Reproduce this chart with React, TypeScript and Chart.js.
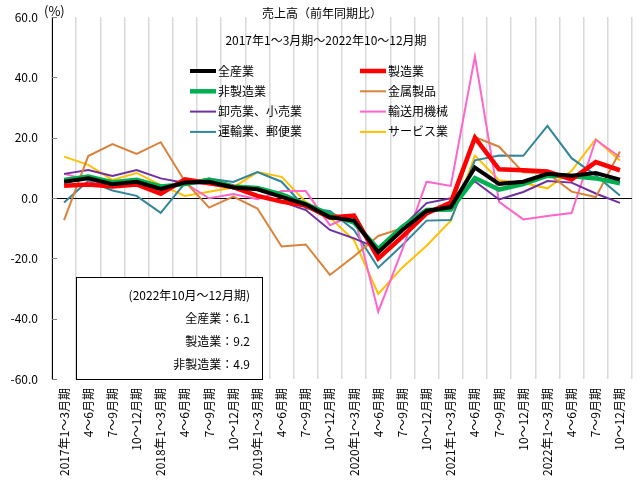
import React, { useEffect, useRef } from 'react';
import Chart from 'chart.js/auto';

// 四半期ラベル
const quarters = [
    '2017年1～3月期', '4～6月期', '7～9月期', '10～12月期',
    '2018年1～3月期', '4～6月期', '7～9月期', '10～12月期',
    '2019年1～3月期', '4～6月期', '7～9月期', '10～12月期',
    '2020年1～3月期', '4～6月期', '7～9月期', '10～12月期',
    '2021年1～3月期', '4～6月期', '7～9月期', '10～12月期',
    '2022年1～3月期', '4～6月期', '7～9月期', '10～12月期',
];

// 前年同期比 (%)
const allIndustries = [5.4, 6.5, 4.6, 5.4, 3.0, 5.1, 5.4, 3.5, 2.9, 0.4, -2.1, -6.4, -7.5, -18.0, -10.6, -4.3, -3.0, 10.1, 4.7, 5.4, 8.0, 7.4, 8.3, 6.1];
const manufacturing = [4.1, 4.5, 3.8, 4.5, 1.4, 6.2, 4.9, 3.6, 0.7, -1.2, -2.5, -6.5, -5.8, -20.0, -12.8, -5.1, -1.5, 20.0, 9.5, 9.2, 8.8, 6.1, 11.9, 9.2];
const nonManufacturing = [6.0, 7.1, 5.2, 6.0, 3.8, 4.6, 6.0, 3.8, 3.3, 1.2, -2.0, -5.4, -8.2, -16.9, -9.5, -4.0, -3.8, 6.6, 2.8, 4.6, 7.4, 7.3, 6.5, 4.9];
const metalProducts = [-7.3, 13.9, 17.9, 14.6, 18.5, 5.5, -3.2, 0.5, -3.5, -16.1, -15.4, -25.5, -19.3, -12.6, -10.0, -4.2, -3.6, 20.2, 17.0, 8.5, 8.2, 2.1, 0.3, 15.4];
const wholesaleRetail = [8.0, 9.3, 7.3, 9.3, 6.5, 5.0, 4.7, 3.5, 0.8, -1.2, -4.0, -10.6, -13.4, -16.8, -9.5, -1.7, -0.1, 5.5, -0.5, 2.0, 5.6, 5.1, 1.5, -1.6];
const transportMachinery = [8.0, 6.0, 3.8, 5.1, 2.1, 4.9, -0.1, 1.3, -0.4, 2.3, 2.3, -9.0, -5.6, -37.7, -17.0, 5.4, 4.0, 46.9, -1.3, -7.1, -6.0, -5.0, 19.3, 13.6];
const transportPostal = [-1.5, 5.7, 2.5, 0.7, -4.9, 4.9, 6.5, 5.3, 8.6, 5.4, -3.4, -4.3, -10.6, -23.1, -15.6, -7.5, -7.3, 12.5, 14.1, 14.0, 23.9, 13.2, 7.5, 0.8];
const services = [13.7, 11.0, 6.0, 8.3, 4.3, 0.7, 2.1, 3.5, 8.6, 7.0, -1.3, -6.5, -14.0, -31.8, -23.0, -15.8, -7.5, 14.1, 5.9, 5.0, 3.2, 9.0, 19.5, 12.4];

const noteLines = ['(2022年10月～12月期)', '全産業：6.1', '製造業：9.2', '非製造業：4.9'];

const FONT = '"Noto Sans CJK JP", "Noto Sans", sans-serif';

type Series = { label: string; data: number[]; color: string; width: number };

const series: Series[] = [
    { label: '全産業', data: allIndustries, color: '#000000', width: 4 },
    { label: '製造業', data: manufacturing, color: '#FF0000', width: 4.5 },
    { label: '非製造業', data: nonManufacturing, color: '#00B050', width: 4.5 },
    { label: '金属製品', data: metalProducts, color: '#D9823B', width: 2 },
    { label: '卸売業、小売業', data: wholesaleRetail, color: '#7030A0', width: 2 },
    { label: '輸送用機械', data: transportMachinery, color: '#FF66CC', width: 2 },
    { label: '運輸業、郵便業', data: transportPostal, color: '#31869B', width: 2 },
    { label: 'サービス業', data: services, color: '#FFC000', width: 2 },
];

const legendLeft = ['全産業', '非製造業', '卸売業、小売業', '運輸業、郵便業'];
const legendRight = ['製造業', '金属製品', '輸送用機械', 'サービス業'];

const overlayPlugin = {
    id: 'overlay',
    afterDraw(chart: any) {
        const ctx = chart.ctx as CanvasRenderingContext2D;
        const { left } = chart.chartArea;
        const yScale = chart.scales.y;
        ctx.save();

        // inner tick marks on the y axis
        ctx.strokeStyle = '#808080';
        ctx.lineWidth = 1;
        yScale.ticks.forEach((t: any) => {
            const py = Math.round(yScale.getPixelForValue(t.value)) + 0.5;
            ctx.beginPath();
            ctx.moveTo(left, py);
            ctx.lineTo(left + 5, py);
            ctx.stroke();
        });

        ctx.fillStyle = '#000';
        ctx.textBaseline = 'middle';
        ctx.font = `13px ${FONT}`;
        ctx.textAlign = 'left';
        ctx.fillText('(%)', 44, 11);

        ctx.font = `12px ${FONT}`;
        ctx.textAlign = 'center';
        ctx.fillText('売上高（前年同期比）', 322, 13);
        ctx.fillText('2017年1～3月期～2022年10～12月期', 326, 40);

        // legend in two columns
        const drawLegend = (names: string[], x0: number) => {
            names.forEach((name, i) => {
                const s = series.find(d => d.label === name)!;
                const py = 71 + i * 20.3;
                ctx.strokeStyle = s.color;
                ctx.lineWidth = s.width;
                ctx.beginPath();
                ctx.moveTo(x0, py);
                ctx.lineTo(x0 + 26, py);
                ctx.stroke();
                ctx.fillStyle = '#000';
                ctx.textAlign = 'left';
                ctx.fillText(name, x0 + 28, py);
            });
        };
        drawLegend(legendLeft, 190);
        drawLegend(legendRight, 360);

        // note box
        ctx.fillStyle = '#fff';
        ctx.fillRect(76, 277, 186, 102);
        ctx.strokeStyle = '#000';
        ctx.lineWidth = 1;
        ctx.strokeRect(76.5, 277.5, 186, 102);
        ctx.fillStyle = '#000';
        ctx.textAlign = 'right';
        noteLines.forEach((txt, i) => {
            ctx.fillText(txt, 250, 295 + i * 23.2);
        });

        ctx.restore();
    },
};

const App: React.FC = () => {
    const canvasRef = useRef<HTMLCanvasElement>(null);

    useEffect(() => {
        if (!canvasRef.current) return;

        const chart = new Chart(canvasRef.current, {
            type: 'line',
            data: {
                labels: quarters,
                datasets: series.map(s => ({
                    label: s.label,
                    data: s.data,
                    borderColor: s.color,
                    backgroundColor: s.color,
                    borderWidth: s.width,
                    pointRadius: 0,
                    tension: 0,
                    fill: false,
                })),
            },
            options: {
                responsive: false,
                animation: false,
                layout: { padding: { top: 17, right: 8, left: 0, bottom: 0 } },
                plugins: {
                    legend: { display: false },
                    tooltip: { enabled: false },
                    title: { display: false },
                },
                scales: {
                    x: {
                        type: 'category',
                        offset: true,
                        afterFit: (scale: any) => {
                            scale.height = 111;
                            scale.paddingLeft = 0;
                            scale.paddingRight = 0;
                        },
                        grid: {
                            offset: true,
                            color: '#d9d9d9',
                            lineWidth: 1.5,
                            drawTicks: false,
                        },
                        border: { display: false },
                        ticks: {
                            autoSkip: false,
                            minRotation: 90,
                            maxRotation: 90,
                            padding: 9,
                            color: '#000',
                            font: { family: FONT, size: 12 },
                        },
                    },
                    y: {
                        min: -60,
                        max: 60,
                        afterFit: (scale: any) => {
                            scale.width = 52;
                            scale.paddingTop = 0;
                            scale.paddingBottom = 0;
                        },
                        grid: {
                            drawTicks: false,
                            lineWidth: 1,
                            color: (c: any) => (c.tick && c.tick.value === 0 ? '#000' : 'rgba(0,0,0,0)'),
                        },
                        border: { display: true, color: '#000', width: 1 },
                        ticks: {
                            stepSize: 20,
                            padding: 14,
                            color: '#000',
                            font: { family: FONT, size: 12 },
                            callback: (v: any) => Number(v).toFixed(1),
                        },
                    },
                },
            },
            plugins: [overlayPlugin],
        });

        return () => {
            chart.destroy();
        };
    }, []);

    return (
        <div style={{ position: 'absolute', left: 0, top: 0, width: 640, height: 490, background: '#fff' }}>
            <canvas ref={canvasRef} width={640} height={490} style={{ display: 'block' }}></canvas>
        </div>
    );
};

export default App;
